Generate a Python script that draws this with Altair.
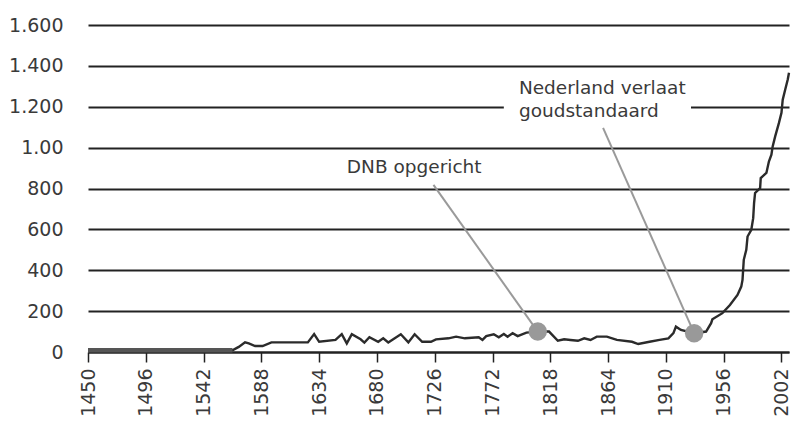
import altair as alt
import pandas as pd

# ---- data ----
years = [1450, 1565, 1570, 1575, 1578, 1583, 1589, 1596, 1606, 1625, 1630, 1634,
         1647, 1652, 1656, 1660, 1667, 1670, 1674, 1681, 1685, 1689, 1699, 1705,
         1710, 1716, 1723, 1727, 1737, 1743, 1750, 1761, 1764, 1767, 1773, 1777,
         1781, 1784, 1788, 1792, 1799, 1808, 1817, 1824, 1829, 1834, 1840, 1845,
         1850, 1855, 1863, 1871, 1883, 1888, 1897, 1905, 1912, 1916, 1918, 1922,
         1932.5, 1942, 1946, 1947, 1955, 1961, 1967, 1970, 1971, 1972, 1974,
         1975, 1978, 1979.5, 1980.2, 1981, 1985, 1985.5, 1990, 1992, 1994, 1995,
         1997, 2000, 2002, 2003, 2005, 2007, 2008]
values = [8, 8, 25, 47, 42, 29, 29, 47, 47, 47, 88, 50,
          59, 87, 42, 87, 62, 46, 72, 50, 67, 47, 87, 47,
          87, 50, 50, 62, 67, 75, 67, 72, 59, 78, 87, 72,
          88, 75, 92, 78, 95, 100, 100, 55, 62, 59, 55, 67,
          59, 75, 75, 59, 50, 39, 50, 59, 67, 92, 124, 108,
          92, 100, 141, 160, 190, 230, 279, 320, 353, 451, 500,
          565, 598, 655, 729, 778, 802, 851, 876, 932, 965, 1006,
          1055, 1121, 1170, 1235, 1284, 1333, 1366]

early_end = 1565  # thick flat segment at the start

x_ticks = [1450, 1496, 1542, 1588, 1634, 1680, 1726, 1772, 1818, 1864, 1910, 1956, 2002]
y_ticks = [0, 200, 400, 600, 800, 1000, 1200, 1400, 1600]
y_labels = ["0", "200", "400", "600", "800", "1.00", "1.200", "1.400", "1.600"]

# annotations: event point, label anchor (where the pointer line ends), text
ann_point_year = [1808, 1932.5]
ann_point_value = [100, 92]
ann_end_year = [1725, 1860]
ann_end_value = [818, 1097]

label_texts = ["DNB opgericht", "Nederland verlaat", "goudstandaard"]
label_years = [1656, 1793, 1793]
label_values = [906, 1294, 1181]

# white box behind the second annotation text (covers the grid line)
box_years = [1781, 1930]
box_values = [1150, 1350]

FONT = "DejaVu Sans"
TEXT = "#3a3a3a"
GRID = "#222222"

df = pd.DataFrame({"year": years, "value": values})
df_early = df[df["year"] <= early_end]
ann = pd.DataFrame({"year": ann_point_year, "value": ann_point_value,
                    "year2": ann_end_year, "value2": ann_end_value})
labels = pd.DataFrame({"year": label_years, "value": label_values, "text": label_texts})
box = pd.DataFrame({"x": [box_years[0]], "x2": [box_years[1]],
                    "y": [box_values[0]], "y2": [box_values[1]]})

label_expr = " : ".join(
    [f"datum.value == {v} ? '{l}'" for v, l in zip(y_ticks, y_labels)]
) + " : ''"

xscale = alt.Scale(domain=[1450, 2008], nice=False, zero=False)
yscale = alt.Scale(domain=[0, 1600], nice=False)

x_enc = alt.X("year:Q", scale=xscale, title=None,
              axis=alt.Axis(values=x_ticks, format="d", labelAngle=270,
                            labelAlign="right", labelBaseline="middle",
                            labelPadding=6, tickSize=10, tickColor=GRID,
                            tickWidth=1.5, domainColor=GRID, domainWidth=1.8,
                            grid=False, labelFont=FONT, labelFontSize=19,
                            labelColor=TEXT, labelOverlap=False))
y_enc = alt.Y("value:Q", scale=yscale, title=None,
              axis=alt.Axis(values=y_ticks, labelExpr=label_expr, ticks=False,
                            domain=False, grid=True, gridColor=GRID,
                            gridWidth=1.8, labelPadding=25, labelFont=FONT,
                            labelFontSize=19, labelColor=TEXT))

base_line = alt.Chart(df).mark_line(color="#2b2b2b", strokeWidth=2.4).encode(
    x=x_enc, y=y_enc)

early_line = alt.Chart(df_early).mark_line(color="#555555", strokeWidth=4.5).encode(
    x=alt.X("year:Q", scale=xscale), y=alt.Y("value:Q", scale=yscale))

white_box = alt.Chart(box).mark_rect(color="white").encode(
    x=alt.X("x:Q", scale=xscale), x2="x2:Q",
    y=alt.Y("y:Q", scale=yscale), y2="y2:Q")

pointer = alt.Chart(ann).mark_rule(color="#9a9a9a", strokeWidth=2).encode(
    x=alt.X("year:Q", scale=xscale), x2="year2:Q",
    y=alt.Y("value:Q", scale=yscale), y2="value2:Q")

dots = alt.Chart(ann).mark_circle(color="#999999", opacity=1, size=340).encode(
    x=alt.X("year:Q", scale=xscale), y=alt.Y("value:Q", scale=yscale))

texts = alt.Chart(labels).mark_text(align="left", baseline="middle", font=FONT,
                                    fontSize=18.5, color=TEXT).encode(
    x=alt.X("year:Q", scale=xscale), y=alt.Y("value:Q", scale=yscale),
    text="text:N")

chart = alt.layer(white_box, base_line, early_line, pointer, dots, texts).properties(
    width=701, height=327,
    autosize=alt.AutoSizeParams(type="none"),
    padding={"left": 80, "top": 17, "right": 2, "bottom": 68},
    background="white",
).configure_view(stroke=None)

chart.save("out.html", embed_options={"renderer": "svg", "actions": False})
